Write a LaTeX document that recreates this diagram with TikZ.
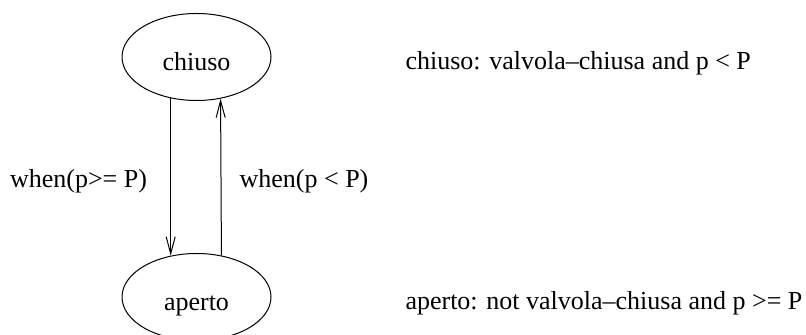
\documentclass[tikz,border=0pt]{standalone}
\usepackage{fontspec}
\setmainfont{Liberation Serif}
\usetikzlibrary{shapes.geometric,arrows.meta}

\begin{document}
\begin{tikzpicture}[x=25pt,y=25pt,line width=0.5pt,
		font=\fontsize{13}{15}\selectfont,
		stato/.style={draw,ellipse,minimum width=74.5pt,minimum height=43.5pt,inner sep=0pt,
			text height=13.5pt,text depth=0pt},
		freccia/.style={-{Straight Barb[length=8.5pt,width=4.5pt]}}]
		\useasboundingbox (0,0) rectangle (16.12,6.7);
		\node[stato] (chiuso) at (3.93,5.56) {chiuso};
		\node[stato] (aperto) at (3.93,0.76) {aperto};
		\draw[freccia] (chiuso.238) -- (aperto.122);
		\draw[freccia] (aperto.59.5) -- (chiuso.300.5);
		\node[anchor=base] (apri) at (1.57,2.94) {when(p>= P)};
		\node[anchor=base] (chiudi) at (6.08,2.94) {when(p < P)};
		\node[anchor=base west,inner sep=0pt] (defchiuso) at (8.1,5.3) {chiuso: valvola--chiusa and p < P};
		\node[anchor=base west,inner sep=0pt] (defaperto) at (8.1,0.5) {aperto: not valvola--chiusa and p >= P};
\end{tikzpicture}
\end{document}
